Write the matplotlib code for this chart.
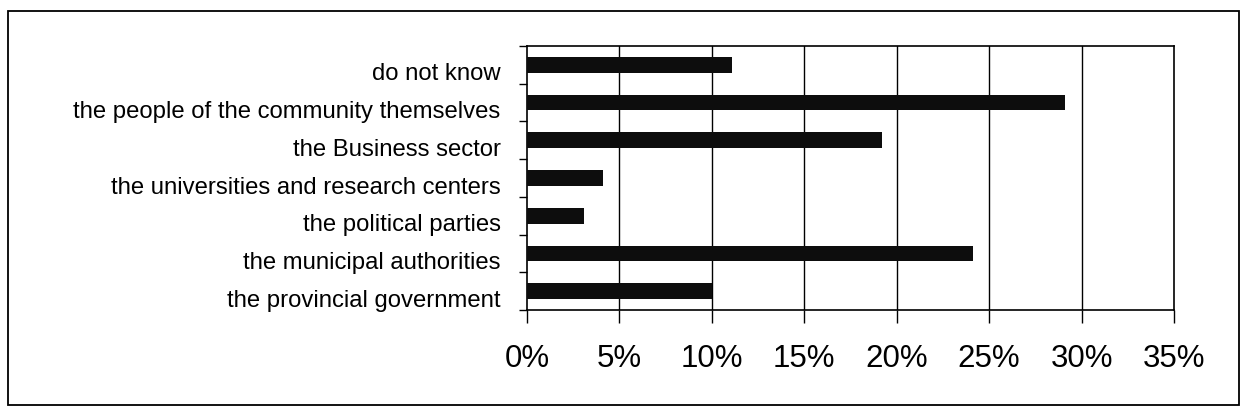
import matplotlib
matplotlib.use("Agg")
import matplotlib.pyplot as plt
import matplotlib.transforms as mtransforms
from matplotlib.ticker import FixedLocator, FuncFormatter
from matplotlib.patches import Rectangle

plt.rcParams['font.family'] = ['Liberation Sans', 'DejaVu Sans']

# Who should take the lead (share of respondents, %)
categories = [
    "do not know",
    "the people of the community themselves",
    "the Business sector",
    "the universities and research centers",
    "the political parties",
    "the municipal authorities",
    "the provincial government",
]
shares = [11.1, 29.1, 19.2, 4.1, 3.1, 24.1, 10.0]
x_ticks = [0, 5, 10, 15, 20, 25, 30, 35]

fig = plt.figure(figsize=(12.41, 4.14), dpi=100)
ax = fig.add_axes([527 / 1241, 103 / 414, 647 / 1241, 264 / 414])

n = len(categories)
ypos = list(range(n))
ax.barh(ypos, shares, height=0.42, color="#0d0d0d", zorder=3)

ax.set_xlim(0, 35)
ax.set_ylim(n - 0.5, -0.5)

# vertical gridlines every 5%
for xv in x_ticks[1:-1]:
    ax.axvline(xv, color="black", lw=1.0, zorder=1)

for sp in ax.spines.values():
    sp.set_color("black")
    sp.set_linewidth(1.2)

# x axis: outward ticks with percent labels
ax.xaxis.set_major_locator(FixedLocator(x_ticks))
ax.xaxis.set_major_formatter(FuncFormatter(lambda v, p: f"{v:.0f}%"))
ax.tick_params(axis="x", which="major", direction="out", length=9, width=1,
               labelsize=22.5, pad=15, colors="black")

# y axis: category labels at centres, tick marks at the boundaries
ax.yaxis.set_major_locator(FixedLocator(ypos))
ax.set_yticklabels(categories)
ax.yaxis.set_minor_locator(FixedLocator([i + 0.5 for i in range(-1, n)]))
ax.tick_params(axis="y", which="major", length=0, labelsize=17.2, pad=19,
               colors="black")
ax.tick_params(axis="y", which="minor", direction="out", length=6, width=1,
               color="black")

shift = mtransforms.ScaledTranslation(0, -0.06, fig.dpi_scale_trans)
for lbl in ax.get_yticklabels():
    lbl.set_transform(lbl.get_transform() + shift)

# frame around the whole chart
fig.patches.append(Rectangle((8 / 1241, 8 / 414), 1231 / 1241, 394 / 414,
                             transform=fig.transFigure, fill=False,
                             edgecolor="black", lw=1.3))

fig.savefig("out.png", dpi=100)
